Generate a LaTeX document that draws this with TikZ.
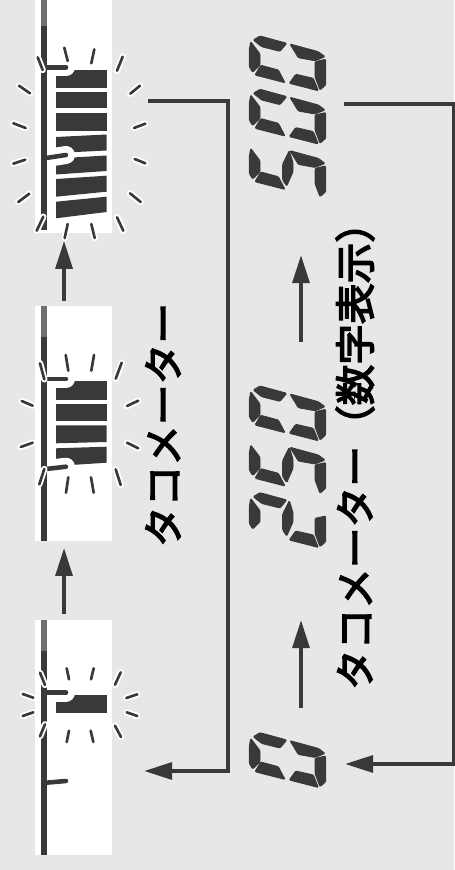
\documentclass[tikz,border=0pt]{standalone}
\usepackage{fontspec}
\usepackage{tikz}
\usetikzlibrary{arrows.meta}
\newfontfamily\cjk[FakeBold=3.5]{Noto Sans CJK JP}
\definecolor{meterdark}{HTML}{3A3839}
\definecolor{metergrey}{HTML}{6D6E71}
\definecolor{pagegrey}{HTML}{E6E7E8}
\tikzset{
  panel/.style={fill=white, inner sep=0pt, minimum width=57.75pt, minimum height=176.25pt},
  bar/.style={fill=meterdark},
  flow/.style={draw=meterdark, line width=3pt, arrows={-Triangle[length=21pt, width=12.5pt]}},
  rayhalo/.style={draw=white, line width=4.8pt, line cap=round},
  ray/.style={draw=meterdark, line width=2pt, line cap=round},
  tickhalo/.style={draw=white, line width=13.5pt, line cap=round},
  tick/.style={draw=meterdark, line width=3.4pt, line cap=round},
  label/.style={font=\cjk\fontsize{30.5pt}{30.5pt}\selectfont, rotate=90, inner sep=0pt},
  lcd/.style={fill=meterdark, draw=meterdark, line width=0.7pt, rounded corners=0.8pt},
  pics/lcdS/.style={code={\fill[lcd] (23.3,4) -- (30,0) -- (56.7,7.3) -- (50,15.3) -- (31.7,10.7) -- cycle;}},
  pics/lcdT/.style={code={\fill[lcd] (60,8) -- (88.3,15.7) -- (95,20.7) -- (85,24.7) -- (68.3,21.7) -- cycle;}},
  pics/lcdA/.style={code={\fill[lcd] (20.7,5.7) -- (30,18) -- (30,29) -- (22.7,36.3) -- (19.3,30.7) -- (19.3,14) -- cycle;}},
  pics/lcdD/.style={code={\fill[lcd] (95.7,23.3) -- (95.7,49) -- (90,54) -- (85,40.7) -- (85,25.7) -- cycle;}},
  pics/lcdF/.style={code={\fill[lcd] (30.7,29.3) -- (48.3,34) -- (55,46.7) -- (25,39) -- cycle;}},
  pics/lcdE/.style={code={\fill[lcd] (65.7,38.3) -- (83.3,42.3) -- (88.3,54.7) -- (59.3,47.3) -- cycle;}},
  pics/lcdG/.style={code={\fill[lcd] (59.3,8) -- (63,20) -- (63,29) -- (56.7,43.3) -- (52.7,37.3) -- (52.7,21.3) -- cycle;}},
}
\begin{document}
\begin{tikzpicture}[x=0.75pt, y=-0.75pt]
  \useasboundingbox (0,0) rectangle (454,870);
  \fill[pagegrey] (0,0) rectangle (454,870);

  % meters
  \node[panel] (meterTop) at (73.5,115) {};
  \node[panel] (meterMid) at (73.5,423.5) {};
  \node[panel] (meterLow) at (73.5,737.5) {};

  % bars
  \foreach \ya/\yb/\yc/\yd in {70/70/88/88, 92/92/108/108, 113.5/113.5/131/131,
      137/134.5/150.5/153, 158.5/155.5/171/174.5, 179/175.7/191.7/196.7, 201.7/196.7/212/218.3,
      381/381/399.5/399.5, 404/404/421/421, 425.3/425.3/442/443.3, 448.3/446.7/462.7/466,
      695.3/695.3/713.3/713.3}
    \fill[bar] (56,\ya) -- (106.5,\yb) -- (106.5,\yc) -- (56,\yd) -- cycle;

  % marks on the scale
  \foreach \ya/\yb in {67.5/67.5, 158/155, 379/379, 469/466.7, 692.7/692.7, 782.7/781}
    \draw[tickhalo] (47,\ya) -- (66,\yb);
  \foreach \ya/\yb in {0/26, 306/337, 620/651} {
    \fill[metergrey] (41,\ya) rectangle (47.3,\yb);
  }
  \fill[meterdark] (41,26) rectangle (47.3,230);
  \fill[meterdark] (41,337) rectangle (47.3,541);
  \fill[meterdark] (41,651) rectangle (47.3,855);
  \foreach \ya/\yb in {67.5/67.5, 158/155, 379/379, 469/466.7, 692.7/692.7, 782.7/781}
    \draw[tick] (46,\ya) -- (66,\yb);

  % flashes
  \foreach \xa/\ya/\xb/\yb in {
      37.7/57.3/42.7/70, 64.3/47.7/67.7/61, 94.3/49.3/91.3/63.3, 122.7/56.7/117/70.7,
      19/85.7/30/93.3, 140/85.7/130.3/93.7, 13.3/123.3/25.7/128, 145.3/123.7/134/128,
      13.3/163.7/25.3/159.7, 145.3/163.3/134.7/159, 18.3/202/29.3/193.7, 140.7/202/130/193.3,
      36.7/230.7/43.3/216.7, 67.7/224/64.7/238, 91.3/224/94.7/238, 117/217.3/123.3/230.7,
      40/363.3/44.3/379.3, 65.7/355/68.3/370.7, 94/355/91.3/370.7, 121.7/362.7/115.7/378.7,
      21.7/401/32.7/405.7, 138.3/400.7/127/406, 20.7/447/32.7/442.7, 138.3/448.3/127/442.7,
      39.3/484.3/44.3/469, 68.3/477.3/66/492.7, 91/477.3/93.7/492.7, 115.7/469.3/120.7/485,
      40/672.7/45/685, 66.7/668.3/69/679.3, 93.7/668.3/91/679.3, 120.7/672.3/115/684.7,
      22.7/694/33.3/697.7, 137.3/694.3/126.3/698, 22.7/716/33.3/712.3, 137.3/716/126.7/712.3,
      40/736.3/45/724.3, 66.7/742/69/730.7, 93.3/742/90.7/730.7, 121/737/115/725.7} {
    \draw[rayhalo] (\xa,\ya) -- (\xb,\yb);
    \draw[ray] (\xa,\ya) -- (\xb,\yb);
  }

  % digits
  \foreach \y/\segs in {36/{S,T,A,D,F,E}, 89.3/{S,T,A,D,F,E}, 142.7/{T,A,D,F,G},
      386/{S,T,A,D,F,E}, 439.3/{T,A,D,F,G}, 492.7/{S,A,D,E,G},
      732.7/{S,T,A,D,F,E}}
    \foreach \s in \segs
      \pic at (230,\y) {lcd\s};

  % labels
  \node[label] (gaugeLabel) at (163,425) {タコメーター};
  \node[label] (digitLabel) at (355,446) {タコメーター（数字表示）};

  % connectors
  \coordinate (gaugeOut) at (148,101);
  \coordinate (gaugeTurnA) at (228,101);
  \coordinate (gaugeTurnB) at (228,771);
  \coordinate (gaugeIn) at (144,771);
  \coordinate (digitOut) at (344,104);
  \coordinate (digitTurnA) at (454,104);
  \coordinate (digitTurnB) at (454,764);
  \coordinate (digitIn) at (345,764);
  \coordinate (lowStart) at (301,708);
  \coordinate (lowEnd) at (301,620);
  \coordinate (midStart) at (301,342);
  \coordinate (midEnd) at (301,255);
  \draw[flow] ([xshift=-7.1pt]meterMid.north) ++(0,-5) -- ([xshift=-7.1pt,yshift=-6pt]meterTop.south);
  \draw[flow] ([xshift=-7.1pt]meterLow.north) ++(0,-6) -- ([xshift=-7.1pt,yshift=-5pt]meterMid.south);
  \draw[flow] (gaugeOut) -- (gaugeTurnA) -- (gaugeTurnB) -- (gaugeIn);
  \draw[flow] (digitOut) -- (digitTurnA) -- (digitTurnB) -- (digitIn);
  \draw[flow] (lowStart) -- (lowEnd);
  \draw[flow] (midStart) -- (midEnd);
\end{tikzpicture}
\end{document}
